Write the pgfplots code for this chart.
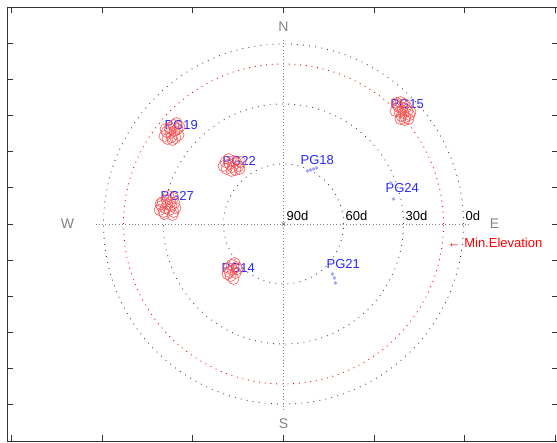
\documentclass[border=0pt]{standalone}
\usepackage{pgfplots}
\pgfplotsset{compat=1.18}
\usepackage{fontspec}
\setmainfont{Liberation Sans}
\definecolor{satblue}{RGB}{40,40,255}
\definecolor{faintblue}{RGB}{165,165,255}
\definecolor{compass}{RGB}{130,130,130}
\definecolor{trackred}{RGB}{250,60,60}
\tikzset{
  lbl/.style={font=\fontsize{13}{15}\selectfont, inner sep=0pt},
  cmp/.style={compass, font=\fontsize{14}{16}\selectfont},
  ring/.style={black!70, line width=0.9pt, dash pattern=on 0.9pt off 5.2pt},
}
\begin{document}
\begin{tikzpicture}
\begin{axis}[
    x=1pt, y=1pt,
    xmin=-276.5, xmax=274.5, ymin=-217, ymax=217,
    xtick={-272,-181.33,-90.67,0,90.67,181.33,272},
    ytick={-217,-180.83,-144.67,-108.5,-72.33,-36.17,0,36.17,72.33,108.5,144.67,180.83,217},
    xticklabels={}, yticklabels={},
    tick align=inside, major tick length=6pt,
    tick style={black!80, line width=0.8pt},
    axis line style={black!80, line width=0.9pt},
]
% visible part of the figure
\coordinate (bl) at (axis cs:-283.5,-218);
\coordinate (tr) at (axis cs:273.5,224);
% rings: 60d, 30d, 0d elevation and the mask
\draw[ring] (axis cs:0,0) circle[radius=60];
\draw[ring] (axis cs:0,0) circle[radius=120];
\draw[ring] (axis cs:0,0) circle[radius=180];
\draw[red, line width=0.9pt, dash pattern=on 0.9pt off 4.8pt] (axis cs:0,0) circle[radius=160];
% cross hair
\addplot[black!50, line width=0.7pt, dash pattern=on 0.7pt off 2.6pt] coordinates {(-188,0) (188,0)};
\addplot[black!50, line width=0.7pt, dash pattern=on 0.7pt off 2.6pt] coordinates {(0,-186) (0,186)};
\addplot[only marks, mark=x, mark size=2.5pt, black!60] coordinates {(0,0)};

% compass and elevation labels
\node[cmp] at (axis cs:0,197) {N};
\node[cmp] at (axis cs:0,-200) {S};
\node[cmp] at (axis cs:-216,0) {W};
\node[cmp] at (axis cs:211,0) {E};
\node[lbl, anchor=base west] at (axis cs:3,3) {90d};
\node[lbl, anchor=base west] at (axis cs:62,3) {60d};
\node[lbl, anchor=base west] at (axis cs:122,3) {30d};
\node[lbl, anchor=base west] at (axis cs:182,3) {0d};
\node[lbl, anchor=west, red] at (axis cs:164,-19) {← Min.Elevation};

% satellite names
\node[lbl, anchor=west, satblue] at (axis cs:107,120) {PG15};
\node[lbl, anchor=west, satblue] at (axis cs:-119,99) {PG19};
\node[lbl, anchor=west, satblue] at (axis cs:-61,63) {PG22};
\node[lbl, anchor=west, satblue] at (axis cs:-123,28) {PG27};
\node[lbl, anchor=west, satblue] at (axis cs:-62,-44) {PG14};
\node[lbl, anchor=west, satblue] at (axis cs:17,64) {PG18};
\node[lbl, anchor=west, satblue] at (axis cs:102,36) {PG24};
\node[lbl, anchor=west, satblue] at (axis cs:43,-40) {PG21};

% tracks of the tracked satellites
\addplot[only marks, mark=o, mark size=5.5pt, mark options={draw=trackred!90, fill=trackred!40, fill opacity=0.55, line width=0.55pt}]
coordinates {
 (113,121) (117,122) (121,120) (115,117) (119,116) (112,113) (116,112) (120,111)
 (124,113) (118,108) (122,107) (126,109) (125,105) (121,104) (117,105) (127,112)
 (114,119) (123,117)
 (-119,88) (-116,85) (-112,87) (-108,86) (-105,89) (-117,92) (-113,91) (-109,93)
 (-106,95) (-114,96) (-110,99) (-107,101) (-104,97) (-118,95) (-111,84)
 (-60,58) (-57,55) (-54,60) (-51,57) (-48,54) (-45,58) (-43,62) (-50,63)
 (-55,65) (-47,61) (-52,53) (-58,62) (-44,55)
 (-124,14) (-122,18) (-120,12) (-118,16) (-116,20) (-114,14) (-112,18) (-110,12)
 (-108,16) (-121,22) (-117,24) (-113,22) (-110,26) (-115,28) (-119,10) (-111,9)
 (-123,20) (-109,21)
 (-55,-44) (-52,-41) (-49,-39) (-47,-43) (-54,-48) (-51,-46) (-48,-49) (-53,-52)
 (-50,-55) (-56,-50) (-46,-45)
};
% weak satellites
\addplot[only marks, mark=*, mark size=1.6pt, faintblue] coordinates {
 (24,53) (27,54) (30,55) (33,56)
 (107,41) (110,25)
 (49,-50) (51,-54) (52,-59)
};
\end{axis}
\pgfresetboundingbox
\path (bl) rectangle (tr);
\end{tikzpicture}
\end{document}
